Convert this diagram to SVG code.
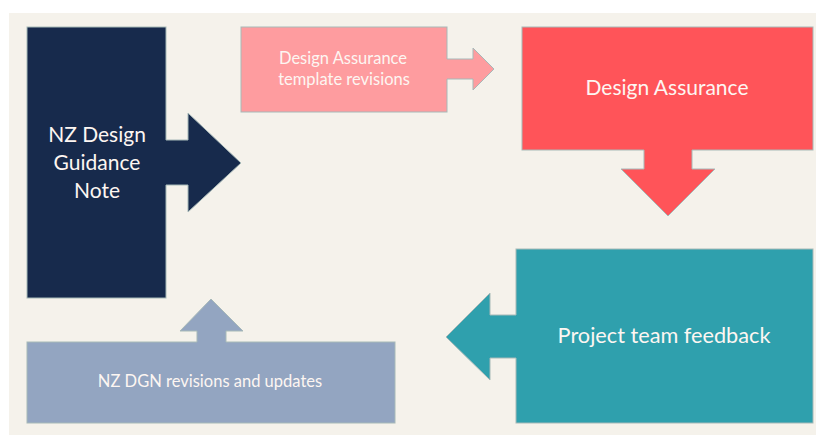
<svg xmlns="http://www.w3.org/2000/svg" width="816" height="435" viewBox="0 0 816 435">
  <style>
    .edge { stroke: #a7b9b8; stroke-width: 1; }
    .lbl { font-family: Lato, "Open Sans", "Liberation Sans", sans-serif; fill: #fdf6f2; text-anchor: middle; }
    .big { font-size: 21px; }
    .small { font-size: 16.5px; }
    .navy { fill: #172a4c; }
    .pink { fill: #fe9c9f; }
    .red { fill: #ff5459; }
    .teal { fill: #2fa0ad; }
    .slate { fill: #93a5c1; }
    .tip { stroke: #a7b9b8; stroke-width: 1; fill: none; stroke-linejoin: miter; }
  </style>

  <!-- page -->
  <rect x="0" y="0" width="816" height="435" fill="#ffffff"/>
  <rect x="9" y="13" width="807" height="422" fill="#f5f2eb"/>

  <g id="node-dgn">
    <rect class="navy edge" x="27" y="27" width="139" height="271"/>
    <text class="lbl big" x="97" y="142" font-size="20.5">NZ Design</text>
    <text class="lbl big" x="97" y="170" font-size="20.5">Guidance</text>
    <text class="lbl big" x="97" y="198" font-size="20.5">Note</text>
  </g>

  <g id="node-template">
    <rect class="pink edge" x="241" y="27" width="206" height="85"/>
    <text class="lbl small" x="343" y="64">Design Assurance</text>
    <text class="lbl small" x="344" y="84.5">template revisions</text>
  </g>

  <g id="node-assurance">
    <rect class="red edge" x="522" y="27" width="291" height="123"/>
    <text class="lbl big" x="667" y="95">Design Assurance</text>
  </g>

  <g id="node-feedback">
    <rect class="teal edge" x="516" y="249" width="297" height="174"/>
    <text class="lbl big" x="664" y="343" style="font-size:21.7px">Project team feedback</text>
  </g>

  <g id="node-updates">
    <rect class="slate edge" x="27" y="342" width="368" height="81"/>
    <text class="lbl small" x="210" y="387">NZ DGN revisions and updates</text>
  </g>

  <!-- block arrows leaving each box -->
  <g id="connectors">
    <polygon class="navy" points="165,140 188,140 188,113 241,163 188,212 188,185 165,185"/>
    <polyline class="tip" points="166,140 188,140 188,113 241,163 188,212 188,185 166,185"/>

    <polygon class="pink" points="446,59 473,59 473,48 494,69 473,90 473,79 446,79"/>
    <polyline class="tip" points="447,59 473,59 473,48 494,69 473,90 473,79 447,79"/>

    <polygon class="red" points="644,149 644,169 621,169 668,216 715,169 692,169 692,149"/>
    <polyline class="tip" points="644,150 644,169 621,169 668,216 715,169 692,169 692,150"/>

    <polygon class="teal" points="517,315 490,315 490,293 446,337 490,380 490,358 517,358"/>
    <polyline class="tip" points="516,315 490,315 490,293 446,337 490,380 490,358 516,358"/>

    <polygon class="slate" points="197,343 197,331 180,331 211,299 243,331 226,331 226,343"/>
    <polyline class="tip" points="197,342 197,331 180,331 211,299 243,331 226,331 226,342"/>
  </g>
</svg>
